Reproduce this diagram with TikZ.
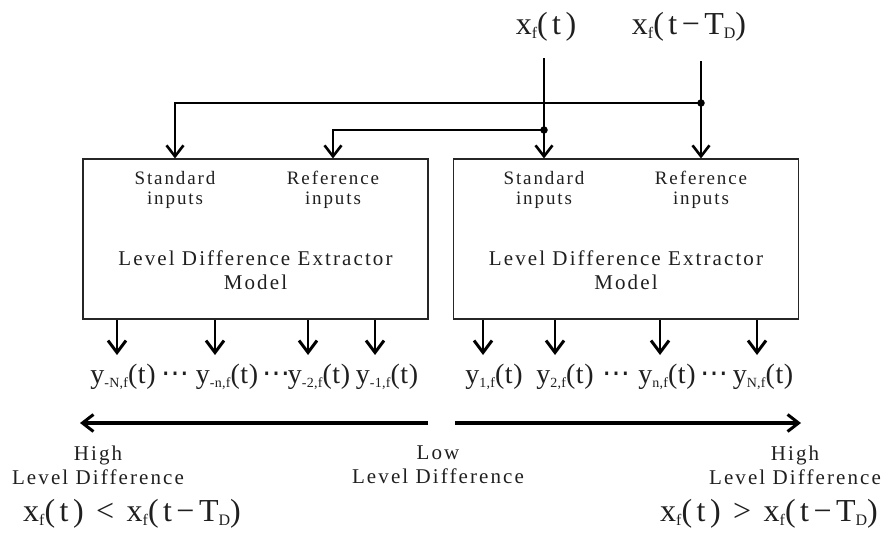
\documentclass[tikz,border=0pt]{standalone}
\usepackage{fontspec}
\usepackage{graphicx}
\setmainfont[LetterSpace=14]{Liberation Serif}
\newfontfamily\txtfont[LetterSpace=10]{Liberation Serif}
\newfontfamily\yfont[LetterSpace=2]{Liberation Serif}
\newfontfamily\dotfont{DejaVu Sans}
\usetikzlibrary{arrows.meta}
\newcommand{\fs}[2]{\fontsize{#1}{#2}\selectfont}
\newcommand{\mysub}[1]{\raisebox{-0.12em}{\scalebox{0.5}{#1}}}
\newcommand{\mydots}{{\dotfont ⋯}}
\begin{document}
\begin{tikzpicture}[x=1pt,y=-1pt,
  every node/.style={inner sep=0pt,text=black!88},
  blk/.style={draw=black!85,line width=1.1pt,minimum width=345pt,minimum height=160pt},
  inarrow/.style={line width=1.4pt,-{Straight Barb[length=11pt,width=17pt,line width=2.6pt]}},
  outarrow/.style={line width=2.6pt,-{Straight Barb[length=12pt,width=18pt,line width=3pt]}},
  bigarrow/.style={line width=3.6pt,-{Straight Barb[length=11pt,width=17pt,line width=3pt]}},
  dotn/.style={circle,fill=black,minimum size=7.5pt},
  small/.style={font=\txtfont\fs{19}{20},align=center},
  mid/.style={font=\txtfont\fs{21}{24},align=center},
  big/.style={font=\fs{32}{36}},
  ylab/.style={font=\yfont\fs{28}{30}}]
\useasboundingbox (0,0) rectangle (891,538);

% boxes
\node[blk] (boxL) at (255.5,239) {};
\node[blk] (boxR) at (626,239) {};

% inner texts
\node[small] (stdL) at (175,190) {Standard\\inputs};
\node[small] (refL) at (333,190) {Reference\\inputs};
\node[small] (stdR) at (544,190) {Standard\\inputs};
\node[small] (refR) at (701,190) {Reference\\inputs};
\node[mid] (ldeL) at (255.5,270) {Level Difference Extractor\\Model};
\node[mid] (ldeR) at (626,270) {Level Difference Extractor\\Model};

% top inputs
\node[big] (xt) at (546,27) {x\mysub{f}(t)};
\node[big] (xd) at (689,27) {x\mysub{f}(t−T\mysub{D})};
\coordinate (xtl) at (544,58);
\coordinate (xdl) at (701,61);
\node[dotn] (d1) at (701,103) {};
\node[dotn] (d2) at (544,130) {};

\draw[inarrow] (xtl) -- (stdR |- boxR.north);
\draw[inarrow] (xdl) -- (refR |- boxR.north);
\draw[inarrow] (d1.center) -| (stdL |- boxL.north);
\draw[inarrow] (d2.center) -| (refL |- boxL.north);

% outputs left
\node[ylab] (yNL) at (123,377) {y\mysub{-N,f}(t)};
\node[ylab] (dots1) at (175,377) {\mydots};
\node[ylab] (ynL) at (227,377) {y\mysub{-n,f}(t)};
\node[ylab] (dots2) at (276,377) {\mydots};
\node[ylab] (y2L) at (319,377) {y\mysub{-2,f}(t)};
\node[ylab] (y1L) at (387,377) {y\mysub{-1,f}(t)};
% outputs right
\node[ylab] (y1R) at (494,377) {y\mysub{1,f}(t)};
\node[ylab] (y2R) at (565,377) {y\mysub{2,f}(t)};
\node[ylab] (dots3) at (616,377) {\mydots};
\node[ylab] (ynR) at (667,377) {y\mysub{n,f}(t)};
\node[ylab] (dots4) at (714,377) {\mydots};
\node[ylab] (yNR) at (763,377) {y\mysub{N,f}(t)};

\coordinate (oa1) at (117,355);
\coordinate (oa2) at (215,355);
\coordinate (oa3) at (308,355);
\coordinate (oa4) at (375,355);
\coordinate (ob1) at (483,355);
\coordinate (ob2) at (555,355);
\coordinate (ob3) at (660,355);
\coordinate (ob4) at (757,355);
\foreach \c in {oa1,oa2,oa3,oa4}{\draw[outarrow] (\c |- boxL.south) -- (\c);}
\foreach \c in {ob1,ob2,ob3,ob4}{\draw[outarrow] (\c |- boxR.south) -- (\c);}

% bottom scale
\coordinate (lowL) at (428,423);
\coordinate (endL) at (80,423);
\coordinate (lowR) at (455,423);
\coordinate (endR) at (801,423);
\draw[bigarrow] (lowL) -- (endL);
\draw[bigarrow] (lowR) -- (endR);

\node[mid] (hiL) at (98,465) {High\\Level Difference};
\node[mid] (lo) at (438,465) {Low\\Level Difference};
\node[mid] (hiR) at (795,465) {High\\Level Difference};
\node[big] (fL) at (132,514) {x\mysub{f}(t) < x\mysub{f}(t−T\mysub{D})};
\node[big] (fR) at (769,514) {x\mysub{f}(t) > x\mysub{f}(t−T\mysub{D})};
\end{tikzpicture}
\end{document}
